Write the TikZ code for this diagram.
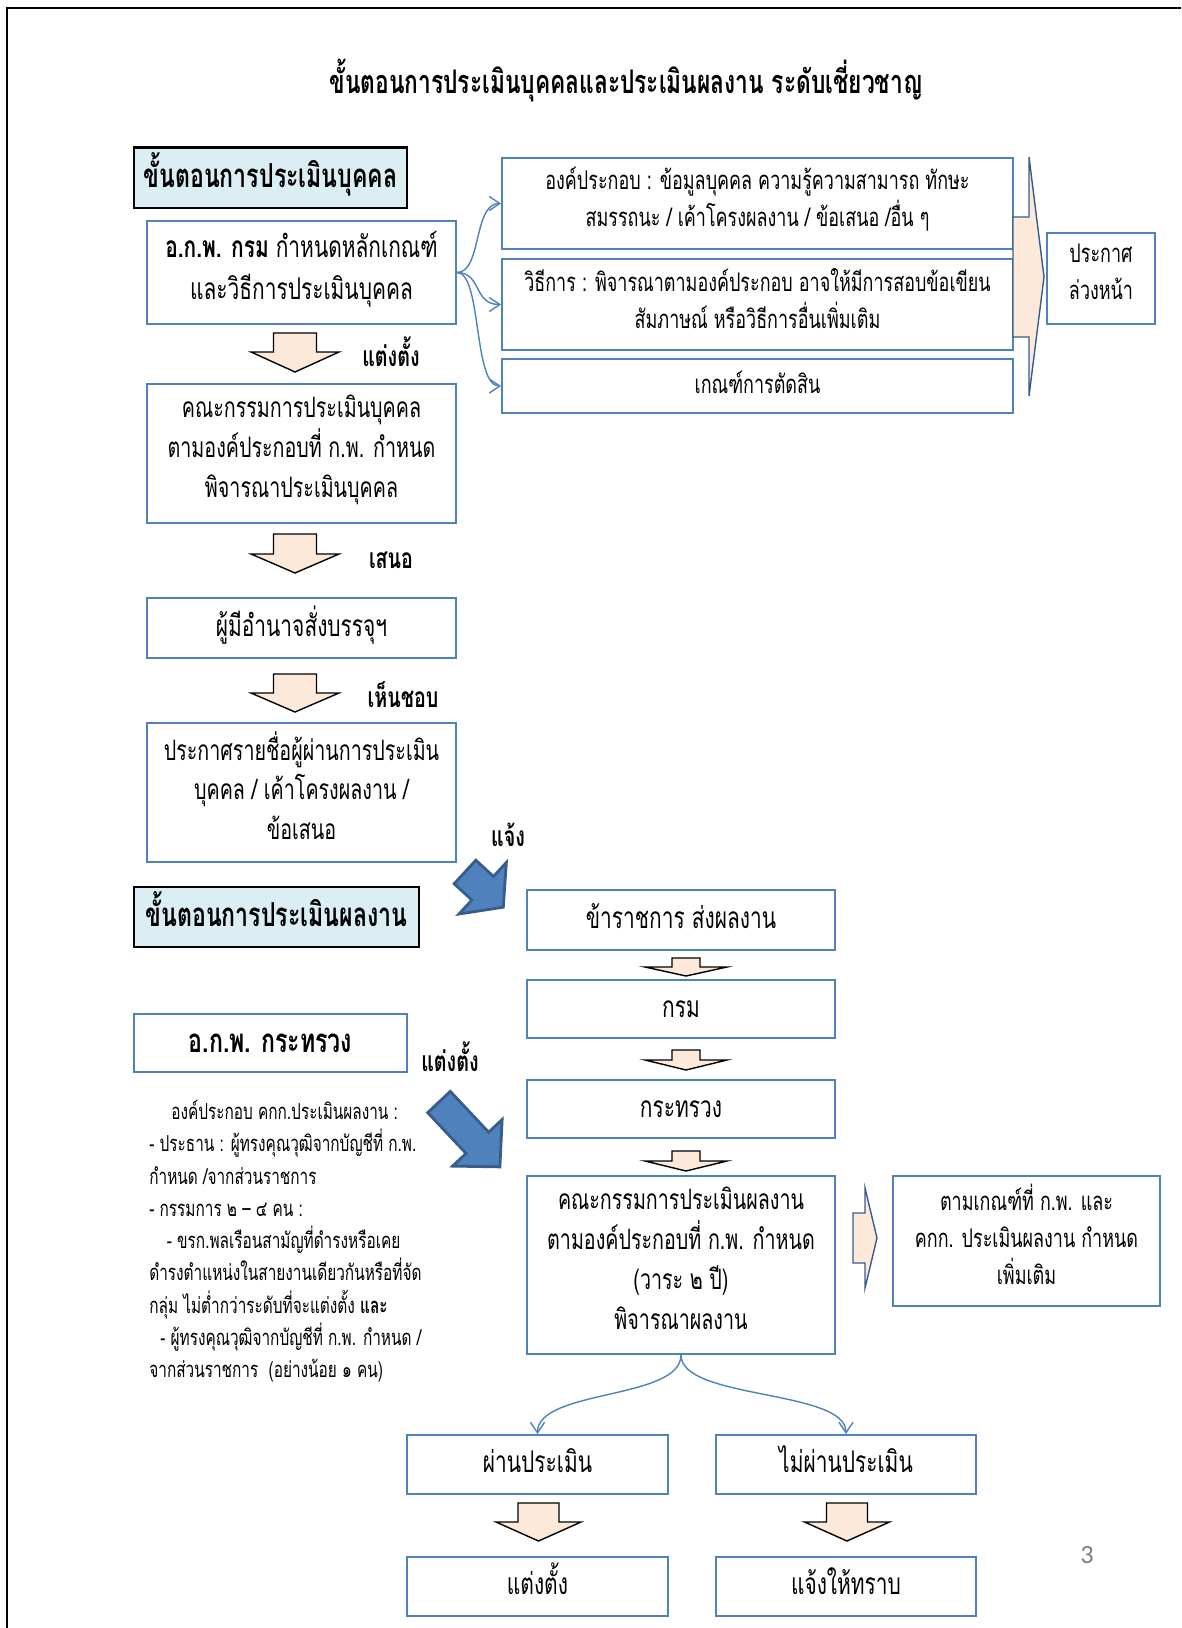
\documentclass[tikz,border=0pt]{standalone}
\usepackage{fontspec}
\setmainfont{Loma}[Script=Thai, FakeStretch=0.70]
\newfontfamily\pagefont{Carlito}
\usetikzlibrary{arrows.meta}

\definecolor{boxblue}{HTML}{4F81BD}
\definecolor{darkblue}{HTML}{385D8A}
\definecolor{peach}{HTML}{FDE9D9}
\definecolor{headfill}{HTML}{DAEEF3}

\newdimen\px \px=0.02cm
\newcommand\bodyfont{\fontsize{16}{22.7}\selectfont}
\newcommand\bigbodyfont{\fontsize{17}{24}\selectfont}
\newcommand\onefont{\fontsize{17}{22.7}\selectfont}
\newcommand\sidefont{\fontsize{14.6}{21}\selectfont}
\newcommand\smallfont{\fontsize{12.5}{18.35}\selectfont}
\newcommand\headfont{\fontsize{18.8}{22}\selectfont\bfseries}
\newcommand\tagfont{\fontsize{16}{18}\selectfont\bfseries}
% even struts so that Thai lines sit in the middle of their boxes
\newcommand\topstrut{\setbox0=\hbox{ก}\rule{0pt}{\dimexpr\ht0+0.5em\relax}}
\newcommand\botstrut{\rule[-0.5em]{0pt}{0.5em}}

% block arrow pointing down: centre x, top, neck, tip, half shaft, half head
\newcommand{\downblock}[6]{%
  \filldraw[peacharrow] ({#1-#5},#2) -- ({#1+#5},#2) -- ({#1+#5},#3) -- ({#1+#6},#3)
    -- (#1,#4) -- ({#1-#6},#3) -- ({#1-#5},#3) -- cycle;}

\tikzset{
  size/.style 2 args={minimum width=#1*\px, minimum height=#2*\px},
  even/.style={execute at begin node=\topstrut, execute at end node=\botstrut},
  box/.style={draw=boxblue, line width=1.1pt, inner sep=0pt, align=center, font=\bodyfont, even},
  headbox/.style={draw=black, line width=1.4pt, fill=headfill, inner sep=0pt, font=\headfont, even},
  tag/.style={font=\tagfont, inner sep=0pt, even},
  peacharrow/.style={draw=black, line width=0.8pt, fill=peach, line join=miter},
  sidearrow/.style={draw=darkblue, line width=0.8pt, fill=peach, line join=miter},
  bluearrow/.style={draw=darkblue, line width=1.6pt, fill=boxblue, line join=miter},
  link/.style={draw=boxblue, line width=0.8pt, -{Straight Barb[length=6pt,width=8pt]}}
}

\begin{document}
\begin{tikzpicture}[x=0.02cm, y=-0.02cm]
\useasboundingbox[fill=white] (0,0) rectangle (1181,1628);
\draw[line width=1.3pt] (7,1628) -- (7,8) -- (1181,8);

\node[font=\fontsize{18.5}{22}\selectfont\bfseries, inner sep=0pt, even] (title) at (626,84)
  {ขั้นตอนการประเมินบุคคลและประเมินผลงาน ระดับเชี่ยวชาญ};

% ---- ประเมินบุคคล
\node[headbox, size={273}{60.5}] (headA) at (270.5,177.75) {ขั้นตอนการประเมินบุคคล};
\node[box, size={309}{103}, font=\bigbodyfont] (kpgrom) at (301.5,272.5) {\textbf{อ.ก.พ. กรม} กำหนดหลักเกณฑ์\\และวิธีการประเมินบุคคล};
\node[box, size={309}{139}] (commA) at (301.5,453.5) {คณะกรรมการประเมินบุคคล\\ตามองค์ประกอบที่ ก.พ. กำหนด\\พิจารณาประเมินบุคคล};
\node[box, size={309}{60}, font=\onefont] (boss) at (301.5,628) {ผู้มีอำนาจสั่งบรรจุฯ};
\node[box, size={309}{139}] (announce) at (301.5,792.5) {ประกาศรายชื่อผู้ผ่านการประเมิน\\บุคคล / เค้าโครงผลงาน /\\ข้อเสนอ};

\downblock{295}{333}{352}{372}{21.5}{44}
\downblock{295}{534}{554}{573}{21.5}{44}
\downblock{295}{674}{693}{712}{21.5}{44}
\node[tag] (appoint) at (391,359) {แต่งตั้ง};
\node[tag] (propose) at (391,561) {เสนอ};
\node[tag] (approve) at (403,700) {เห็นชอบ};

\node[box, size={511}{91}, font=\sidefont] (parts) at (757.5,203.5) {องค์ประกอบ : ข้อมูลบุคคล ความรู้ความสามารถ ทักษะ\\สมรรถนะ / เค้าโครงผลงาน / ข้อเสนอ /อื่น ๆ};
\node[box, size={511}{91}, font=\sidefont] (method) at (757.5,304.5) {วิธีการ : พิจารณาตามองค์ประกอบ อาจให้มีการสอบข้อเขียน\\สัมภาษณ์ หรือวิธีการอื่นเพิ่มเติม};
\node[box, size={511}{54}, font=\sidefont] (judge) at (757.5,386) {เกณฑ์การตัดสิน};
\node[box, size={108}{91}, font=\sidefont] (advance) at (1101,278.5) {ประกาศ\\ล่วงหน้า};
\filldraw[sidearrow] (1013,217) -- (1029,217) -- (1029,157) -- (1044,277) -- (1029,396)
  -- (1029,337) -- (1013,337) -- cycle;

\draw[link] (kpgrom.east) .. controls +(25,0) and +(-28,0) .. (parts.west);
\draw[link] (kpgrom.east) .. controls +(25,0) and +(-28,0) .. (method.west);
\draw[link] (kpgrom.east) .. controls +(25,0) and +(-28,0) .. (judge.west);

% ---- ประเมินผลงาน
\node[tag] (notify) at (508,839) {แจ้ง};
\begin{scope}[shift={(465,872)}, rotate=-42.6]
\filldraw[bluearrow] (0,-16) -- (24,-16) -- (24,-35) -- (52,0) -- (24,35) -- (24,16) -- (0,16) -- cycle;
\end{scope}

\node[headbox, size={285}{60}] (headB) at (276.5,917) {ขั้นตอนการประเมินผลงาน};
\node[box, size={273}{58}, font=\headfont] (kpmin) at (270.5,1043) {อ.ก.พ. กระทรวง};
\node[tag] (appoint2) at (450,1064) {แต่งตั้ง};
\begin{scope}[shift={(439,1102)}, rotate=-46.8]
\filldraw[bluearrow] (0,-15.5) -- (56,-15.5) -- (56,-34) -- (89,0) -- (56,34) -- (56,15.5) -- (0,15.5) -- cycle;
\end{scope}

\node[font=\smallfont, align=left, anchor=north west, inner sep=0pt] (members) at (149,1100)
  {\hspace*{1em}องค์ประกอบ คกก.ประเมินผลงาน :\\
   - ประธาน : ผู้ทรงคุณวุฒิจากบัญชีที่ ก.พ.\\
   กำหนด /จากส่วนราชการ\\
   - กรรมการ ๒ – ๔ คน :\\
   \hspace*{0.8em}- ขรก.พลเรือนสามัญที่ดำรงหรือเคย\\
   ดำรงตำแหน่งในสายงานเดียวกันหรือที่จัด\\
   กลุ่ม ไม่ต่ำกว่าระดับที่จะแต่งตั้ง \textbf{และ}\\
   \hspace*{0.5em}- ผู้ทรงคุณวุฒิจากบัญชีที่ ก.พ. กำหนด /\\
   จากส่วนราชการ \ (อย่างน้อย ๑ คน)};

\node[box, size={308}{60}, font=\onefont] (send) at (681,920) {ข้าราชการ ส่งผลงาน};
\node[box, size={308}{58}, font=\onefont] (dept) at (681,1009) {กรม};
\node[box, size={308}{58}, font=\onefont] (ministry) at (681,1109) {กระทรวง};
\node[box, size={308}{178}] (commB) at (681,1265) {คณะกรรมการประเมินผลงาน\\ตามองค์ประกอบที่ ก.พ. กำหนด\\(วาระ ๒ ปี)\\พิจารณาผลงาน};
\node[box, size={267}{130}, font=\sidefont] (extra) at (1026.5,1241) {ตามเกณฑ์ที่ ก.พ. และ\\คกก. ประเมินผลงาน กำหนด\\เพิ่มเติม};
\downblock{686}{958}{967}{976}{14}{41}
\downblock{686}{1050}{1060}{1070}{14}{41}
\downblock{686}{1151}{1161}{1171}{14}{41}
\filldraw[sidearrow] (853,1213) -- (865,1213) -- (865,1188) -- (877,1238) -- (865,1288)
  -- (865,1263) -- (853,1263) -- cycle;

\node[box, size={261}{59}, font=\onefont] (pass) at (537.5,1464.5) {ผ่านประเมิน};
\node[box, size={260}{59}, font=\onefont] (fail) at (846,1464.5) {ไม่ผ่านประเมิน};
\node[box, size={261}{59}, font=\onefont] (appointed) at (537.5,1586.5) {แต่งตั้ง};
\node[box, size={260}{59}, font=\onefont] (informed) at (846,1586.5) {แจ้งให้ทราบ};
\draw[link] (commB.south) .. controls +(0,45) and +(0,-45) .. (pass.north);
\draw[link] (commB.south) .. controls +(0,45) and +(0,-45) .. (fail.north);
\downblock{538.5}{1503}{1522}{1541}{20.5}{42.5}
\downblock{847}{1503}{1522}{1541}{20.5}{42.5}

\node[font=\pagefont\fontsize{15}{18}\selectfont, text=gray] (pagenum) at (1087,1555) {3};
\end{tikzpicture}
\end{document}
